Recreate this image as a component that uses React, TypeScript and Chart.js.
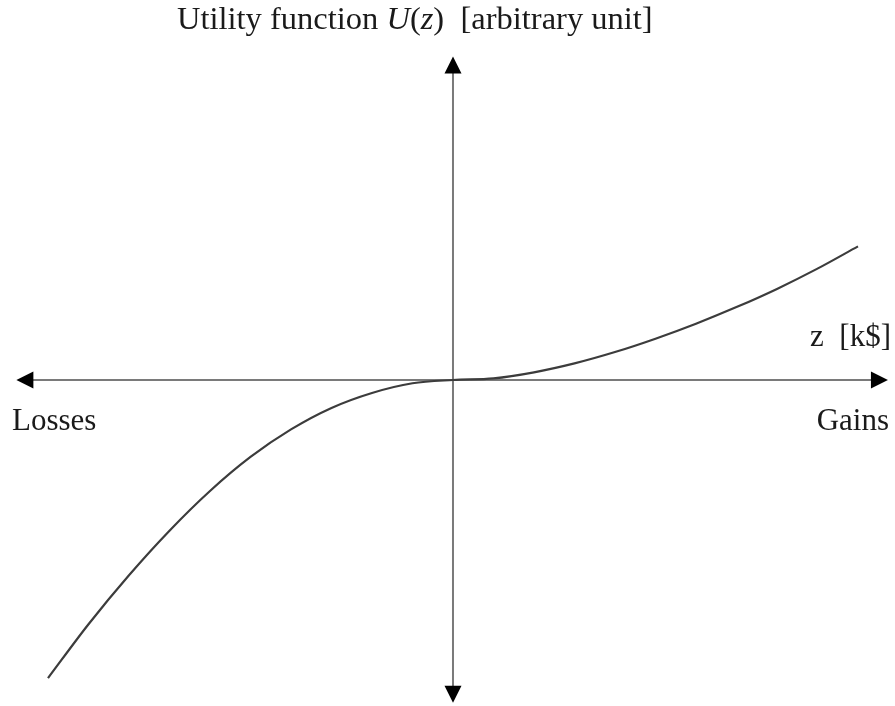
import { useEffect, useRef } from "react";
import { Chart, registerables } from "chart.js";

Chart.register(...registerables);

// Gain / loss in k$ and the utility assigned to it
const zValues = [-10, -9, -8, -7, -6, -5, -4, -3, -2, -1, 0, 1, 2, 3, 4, 5, 6, 7, 8, 9, 10];
const utilityValues = [
  -7.36, -6.03, -4.82, -3.72, -2.74, -1.9, -1.22, -0.69, -0.32, -0.08, 0,
  0.04, 0.19, 0.41, 0.69, 1.02, 1.39, 1.8, 2.25, 2.75, 3.3,
];

// Title pieces: [text, italic]
const titleParts: [string, boolean][] = [
  ["Utility function ", false],
  ["U", true],
  ["(", false],
  ["z", true],
  [")  [arbitrary unit]", false],
];
const xAxisLabel = "z  [k$]";
const lossLabel = "Losses";
const gainLabel = "Gains";

const FONT = '"Liberation Serif", "Times New Roman", serif';

function arrowHead(ctx: CanvasRenderingContext2D, tipX: number, tipY: number, dx: number, dy: number) {
  const len = 17;
  const half = 8.5;
  const bx = tipX - dx * len;
  const by = tipY - dy * len;
  ctx.beginPath();
  ctx.moveTo(tipX, tipY);
  ctx.lineTo(bx - dy * half, by + dx * half);
  ctx.lineTo(bx + dy * half, by - dx * half);
  ctx.closePath();
  ctx.fill();
}

const crossAxes = {
  id: "crossAxes",
  beforeDatasetsDraw(chart: Chart) {
    const { ctx } = chart;
    const xs = chart.scales.x;
    const ys = chart.scales.y;
    const x0 = xs.getPixelForValue(0);
    const y0 = ys.getPixelForValue(0);
    const left = xs.getPixelForValue(-10.78);
    const right = xs.getPixelForValue(10.74);
    const top = ys.getPixelForValue(7.99);
    const bottom = ys.getPixelForValue(-7.97);

    ctx.save();
    ctx.strokeStyle = "#7a7a7a";
    ctx.lineWidth = 2;
    ctx.beginPath();
    ctx.moveTo(left + 10, y0);
    ctx.lineTo(right - 10, y0);
    ctx.moveTo(x0, top + 10);
    ctx.lineTo(x0, bottom - 10);
    ctx.stroke();

    ctx.fillStyle = "#000";
    arrowHead(ctx, left, y0, -1, 0);
    arrowHead(ctx, right, y0, 1, 0);
    arrowHead(ctx, x0, top, 0, -1);
    arrowHead(ctx, x0, bottom, 0, 1);
    ctx.restore();
  },
  afterDraw(chart: Chart) {
    const { ctx } = chart;
    ctx.save();
    ctx.fillStyle = "#1a1a1a";
    ctx.textBaseline = "alphabetic";

    // title with italic symbol
    let tx = 177;
    for (const [text, italic] of titleParts) {
      ctx.font = `${italic ? "italic " : ""}32.5px ${FONT}`;
      ctx.textAlign = "left";
      ctx.fillText(text, tx, 29);
      tx += ctx.measureText(text).width;
    }

    ctx.font = `31px ${FONT}`;
    ctx.textAlign = "right";
    ctx.fillText(xAxisLabel, 891, 346);
    ctx.fillText(gainLabel, 889, 430);
    ctx.textAlign = "left";
    ctx.fillText(lossLabel, 12, 430);
    ctx.restore();
  },
};

export default function App() {
  const canvasRef = useRef<HTMLCanvasElement | null>(null);

  useEffect(() => {
    const canvas = canvasRef.current;
    if (!canvas) return;
    const chart = new Chart(canvas, {
      type: "line",
      data: {
        datasets: [
          {
            data: zValues.map((z, i) => ({ x: z, y: utilityValues[i] })),
            borderColor: "#3c3c3c",
            borderWidth: 2.2,
            pointRadius: 0,
            cubicInterpolationMode: "monotone",
            fill: false,
          },
        ],
      },
      options: {
        animation: false,
        responsive: false,
        maintainAspectRatio: false,
        layout: { padding: 0 },
        plugins: {
          legend: { display: false },
          tooltip: { enabled: false },
          title: { display: false },
        },
        scales: {
          x: { type: "linear", min: -11.185, max: 10.914, display: false },
          y: { type: "linear", min: -8.049, max: 9.383, display: false },
        },
      },
      plugins: [crossAxes],
    });
    return () => chart.destroy();
  }, []);

  return (
    <div style={{ position: "fixed", left: 0, top: 0, width: 895, height: 706, background: "#fff" }}>
      <canvas ref={canvasRef} width={895} height={706} />
    </div>
  );
}
